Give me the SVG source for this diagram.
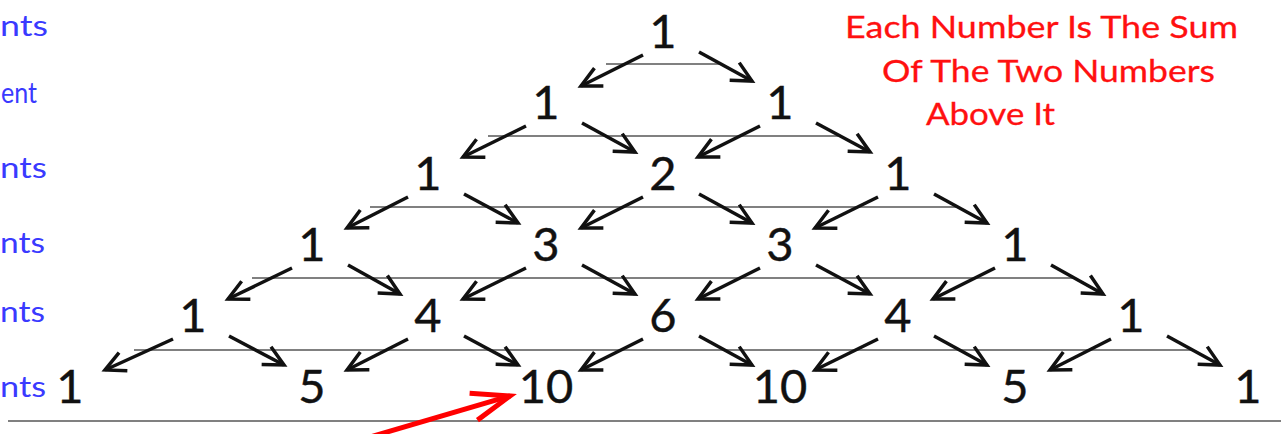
<svg xmlns="http://www.w3.org/2000/svg" width="1281" height="434" viewBox="0 0 1281 434">
<style>
.num{font-family:Lato,"Open Sans","Liberation Sans",sans-serif;font-size:47px;fill:#111;text-anchor:middle;stroke:#111;stroke-width:0.4}
.lbl{font-family:Lato,"Open Sans","Liberation Sans",sans-serif;font-size:29px;fill:#3a3aff}
.note{font-family:Lato,"Open Sans","Liberation Sans",sans-serif;font-size:31px;fill:#ff1010;stroke:#ff1010;stroke-width:0.3}
.rule{stroke:#808080;stroke-width:2}
.arr{stroke:#111;stroke-width:3.5;fill:none;marker-end:url(#ah)}
</style>
<defs>
<marker id="ah" markerUnits="userSpaceOnUse" markerWidth="30" markerHeight="30" viewBox="-24 -15 30 30" refX="0" refY="0" orient="auto">
<path d="M-20,-10 L0,0 L-20,10" fill="none" stroke="#111" stroke-width="3.5"/>
</marker>
<marker id="rh" markerUnits="userSpaceOnUse" markerWidth="60" markerHeight="40" viewBox="-50 -20 60 40" refX="0" refY="0" orient="auto">
<path d="M-38,-14 L0,0 L-38,14" fill="none" stroke="#ff0000" stroke-width="5"/>
</marker>
</defs>
<rect width="1281" height="434" fill="#fff"/>
<g id="rules">
<line class="rule" x1="606" y1="64" x2="720" y2="64"/>
<line class="rule" x1="488" y1="136" x2="838" y2="136"/>
<line class="rule" x1="370" y1="207" x2="956" y2="207"/>
<line class="rule" x1="252" y1="278" x2="1074" y2="278"/>
<line class="rule" x1="134" y1="350" x2="1192" y2="350"/>
<line class="rule" x1="8" y1="421" x2="1281" y2="421"/>
</g>
<g id="labels">
<text class="lbl" x="0" y="36" textLength="48" lengthAdjust="spacingAndGlyphs">nts</text>
<text class="lbl" x="1" y="103" textLength="36" lengthAdjust="spacingAndGlyphs">ent</text>
<text class="lbl" x="0" y="178" textLength="47" lengthAdjust="spacingAndGlyphs">nts</text>
<text class="lbl" x="0" y="253" textLength="45" lengthAdjust="spacingAndGlyphs">nts</text>
<text class="lbl" x="0" y="322" textLength="45" lengthAdjust="spacingAndGlyphs">nts</text>
<text class="lbl" x="0" y="397" textLength="46" lengthAdjust="spacingAndGlyphs">nts</text>
</g>
<g id="note">
<text class="note" x="845" y="38" textLength="393" lengthAdjust="spacingAndGlyphs">Each Number Is The Sum</text>
<text class="note" x="882" y="82" textLength="333" lengthAdjust="spacingAndGlyphs">Of The Two Numbers</text>
<text class="note" x="926" y="125" textLength="129" lengthAdjust="spacingAndGlyphs">Above It</text>
</g>
<g id="connectors">
<line class="arr" x1="643" y1="55" x2="581" y2="86"/>
<line class="arr" x1="699" y1="52" x2="752" y2="81"/>
<line class="arr" x1="526" y1="126" x2="463" y2="157"/>
<line class="arr" x1="582" y1="123" x2="635" y2="152"/>
<line class="arr" x1="760" y1="126" x2="698" y2="157"/>
<line class="arr" x1="816" y1="123" x2="870" y2="152"/>
<line class="arr" x1="408" y1="197" x2="347" y2="228"/>
<line class="arr" x1="464" y1="194" x2="518" y2="223"/>
<line class="arr" x1="643" y1="197" x2="581" y2="228"/>
<line class="arr" x1="699" y1="194" x2="752" y2="223"/>
<line class="arr" x1="878" y1="197" x2="815" y2="228"/>
<line class="arr" x1="934" y1="194" x2="987" y2="223"/>
<line class="arr" x1="292" y1="268" x2="228" y2="299"/>
<line class="arr" x1="348" y1="265" x2="400" y2="294"/>
<line class="arr" x1="526" y1="268" x2="463" y2="299"/>
<line class="arr" x1="582" y1="265" x2="635" y2="294"/>
<line class="arr" x1="760" y1="268" x2="698" y2="299"/>
<line class="arr" x1="816" y1="265" x2="870" y2="294"/>
<line class="arr" x1="995" y1="268" x2="933" y2="299"/>
<line class="arr" x1="1051" y1="265" x2="1103" y2="294"/>
<line class="arr" x1="173" y1="339" x2="105" y2="370"/>
<line class="arr" x1="229" y1="336" x2="284" y2="365"/>
<line class="arr" x1="408" y1="339" x2="347" y2="370"/>
<line class="arr" x1="464" y1="336" x2="518" y2="365"/>
<line class="arr" x1="643" y1="339" x2="581" y2="370"/>
<line class="arr" x1="699" y1="336" x2="752" y2="365"/>
<line class="arr" x1="878" y1="339" x2="815" y2="370"/>
<line class="arr" x1="934" y1="336" x2="987" y2="365"/>
<line class="arr" x1="1111" y1="339" x2="1050" y2="370"/>
<line class="arr" x1="1167" y1="336" x2="1220" y2="365"/>
<line x1="353" y1="442" x2="510" y2="396" stroke="#ff0000" stroke-width="5" marker-end="url(#rh)"/>
</g>
<g id="n0-0"><text class="num" x="663" y="48">1</text></g>
<g id="n1-0"><text class="num" x="546" y="119">1</text></g>
<g id="n1-1"><text class="num" x="780" y="119">1</text></g>
<g id="n2-0"><text class="num" x="428" y="190">1</text></g>
<g id="n2-1"><text class="num" x="663" y="190">2</text></g>
<g id="n2-2"><text class="num" x="898" y="190">1</text></g>
<g id="n3-0"><text class="num" x="312" y="261">1</text></g>
<g id="n3-1"><text class="num" x="546" y="261">3</text></g>
<g id="n3-2"><text class="num" x="780" y="261">3</text></g>
<g id="n3-3"><text class="num" x="1015" y="261">1</text></g>
<g id="n4-0"><text class="num" x="193" y="332">1</text></g>
<g id="n4-1"><text class="num" x="428" y="332">4</text></g>
<g id="n4-2"><text class="num" x="663" y="332">6</text></g>
<g id="n4-3"><text class="num" x="898" y="332">4</text></g>
<g id="n4-4"><text class="num" x="1131" y="332">1</text></g>
<g id="n5-0"><text class="num" x="70" y="403">1</text></g>
<g id="n5-1"><text class="num" x="312" y="403">5</text></g>
<g id="n5-2"><text class="num" x="546" y="403">10</text></g>
<g id="n5-3"><text class="num" x="780" y="403">10</text></g>
<g id="n5-4"><text class="num" x="1015" y="403">5</text></g>
<g id="n5-5"><text class="num" x="1248" y="403">1</text></g>
</svg>
